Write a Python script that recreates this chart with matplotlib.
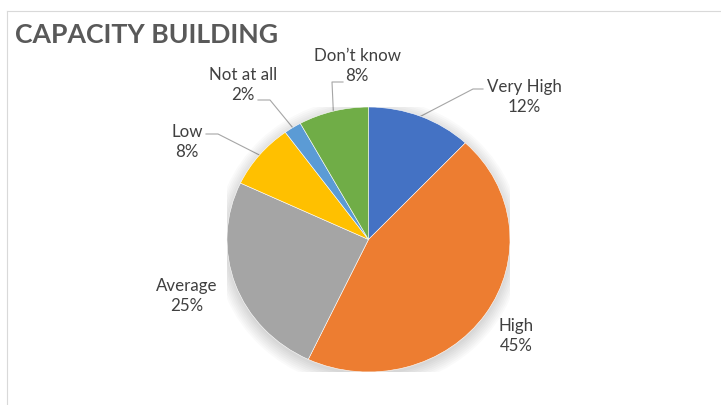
import matplotlib
matplotlib.use("Agg")
import numpy as np
import matplotlib.pyplot as plt
from matplotlib.patches import Ellipse
from matplotlib.lines import Line2D

# --- data ---
categories = ["Very High", "High", "Average", "Low", "Not at all", "Don\u2019t know"]
shares = [12, 45, 25, 8, 2, 8]
colors = ["#4472C4", "#ED7D31", "#A5A5A5", "#FFC000", "#5B9BD5", "#70AD47"]
title = "CAPACITY BUILDING"

# label layout (pixel coords of the text centre, top-left origin) and leader elbows
W, H = 721, 406
label_pos = {
    "Very High": (524, 97),
    "High": (516, 336),
    "Average": (187, 296),
    "Low": (187, 142),
    "Not at all": (243, 85),
    "Don\u2019t know": (357, 66),
}
# elbow and end of leader line, None = no leader
leaders = {
    "Very High": [(473, 90), (483, 90)],
    "Low": [(218, 135), (206, 135)],
    "Not at all": [(270, 101), (258, 101)],
    "Don\u2019t know": [(332, 83), (343, 83)],
}

# pie box in pixels (the reference pie is slightly elliptical)
cx, cy, rx, ry = 368.5, 240.5, 141.5, 132.5

fig = plt.figure(figsize=(W / 100, H / 100), dpi=100)
fig.patch.set_facecolor("white")

# overlay axes in pixel units
ov = fig.add_axes([0, 0, 1, 1])
ov.set_xlim(0, W)
ov.set_ylim(H, 0)
ov.axis("off")

# pie axes sits exactly on the pie's bounding box
pie_ax = fig.add_axes([(cx - rx) / W, (H - cy - ry) / H, 2 * rx / W, 2 * ry / H])
# soft shadow
for i in range(8):
    pie_ax.add_patch(Ellipse((0.0, -0.025), 2 * (1.0 + 0.012 * i), 2 * (1.0 + 0.014 * i),
                             facecolor="#000000", alpha=0.018, edgecolor="none", zorder=0))
wedges, _ = pie_ax.pie(shares, colors=colors, startangle=90, counterclock=False,
                       radius=1.0, wedgeprops=dict(edgecolor="white", linewidth=0.4),
                       normalize=True)
for w in wedges:
    w.set_zorder(2)
pie_ax.set_aspect("auto")
pie_ax.set_xlim(-1, 1)
pie_ax.set_ylim(-1, 1)
pie_ax.axis("off")

lab_font = dict(family="Lato", fontsize=12.2, color="#404040", ha="center", va="center",
                linespacing=1.3)
for w, name, val in zip(wedges, categories, shares):
    tx, ty = label_pos[name]
    ov.text(tx, ty, f"{name}\n{val}%", **lab_font, zorder=5)
    if name in leaders:
        ang = np.deg2rad((w.theta1 + w.theta2) / 2)
        ax0 = cx + rx * np.cos(ang)
        ay0 = cy - ry * np.sin(ang)
        pts = [(ax0, ay0)] + leaders[name]
        ov.plot([p[0] for p in pts], [p[1] for p in pts], color="#A6A6A6", lw=0.8, zorder=4)

ov.text(15, 35, title, family="Lato", fontweight="bold", fontsize=19.2, color="#595959",
        ha="left", va="center")

# chart area border (top and left visible)
fig.add_artist(Line2D([7 / W, 7 / W], [0, 1 - 12 / H], color="#D9D9D9", lw=0.8))
fig.add_artist(Line2D([7 / W, 1], [1 - 12 / H, 1 - 12 / H], color="#D9D9D9", lw=0.8))

fig.savefig("out.png", dpi=100, facecolor="white")
